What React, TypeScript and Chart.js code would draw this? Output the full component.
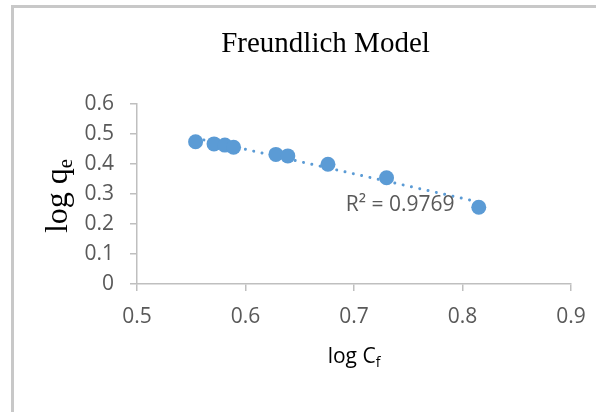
import { useEffect, useRef } from 'react';
import { Chart, registerables } from 'chart.js';

Chart.register(...registerables);

// ---- data ----
const logCf = [0.554, 0.571, 0.581, 0.589, 0.628, 0.639, 0.676, 0.730, 0.815];
const logQe = [0.474, 0.467, 0.463, 0.456, 0.432, 0.427, 0.399, 0.354, 0.256];
const xTickValues = [0.5, 0.6, 0.7, 0.8, 0.9];
const yTickValues = [0, 0.1, 0.2, 0.3, 0.4, 0.5, 0.6];
const chartTitle = 'Freundlich Model';
const rSquaredLabel = 'R² = 0.9769';
const rLabelAnchor = [0.6925, 0.243]; // data coords of the label's left baseline

function linearFit(xs: number[], ys: number[]) {
  const n = xs.length;
  const mx = xs.reduce((a, b) => a + b, 0) / n;
  const my = ys.reduce((a, b) => a + b, 0) / n;
  let sxy = 0;
  let sxx = 0;
  for (let i = 0; i < n; i++) {
    sxy += (xs[i] - mx) * (ys[i] - my);
    sxx += (xs[i] - mx) * (xs[i] - mx);
  }
  const slope = sxy / sxx;
  return { slope, intercept: my - slope * mx };
}

const BLUE = '#5B9BD5';
const AXIS = '#bfbfbf';
const TICK_TEXT = '#595959';

const decor = {
  id: 'decor',
  beforeDraw(chart: any) {
    const ctx = chart.ctx;
    ctx.save();
    ctx.fillStyle = '#ffffff';
    ctx.fillRect(0, 0, chart.width, chart.height);
    ctx.strokeStyle = '#c8c8c8';
    ctx.lineWidth = 3;
    ctx.strokeRect(12.5, 6.5, 800, 800);
    ctx.restore();
  },
  afterDraw(chart: any) {
    const ctx = chart.ctx;
    const area = chart.chartArea;
    const xs = chart.scales.x;
    const ys = chart.scales.y;
    ctx.save();
    // title
    ctx.fillStyle = '#000000';
    ctx.font = '29px "Liberation Serif"';
    ctx.textAlign = 'center';
    ctx.textBaseline = 'alphabetic';
    ctx.fillText(chartTitle, 325.5, 51.5);

    // x axis title: log C_f
    ctx.textAlign = 'left';
    ctx.font = '21px "Open Sans"';
    const main = 'log C';
    const mw = ctx.measureText(main).width;
    ctx.font = '14px "Open Sans"';
    const sw = ctx.measureText('f').width;
    const cx = (area.left + area.right) / 2;
    const startX = cx - (mw + sw) / 2;
    ctx.font = '21px "Open Sans"';
    ctx.fillText(main, startX, 362.5);
    ctx.font = '14px "Open Sans"';
    ctx.fillText('f', startX + mw, 367);

    // y axis title: log q_e (rotated)
    ctx.save();
    ctx.translate(66.5, (area.top + area.bottom) / 2 + 2);
    ctx.rotate(-Math.PI / 2);
    ctx.font = '32px "Liberation Serif"';
    const ym = 'log q';
    const ymw = ctx.measureText(ym).width;
    ctx.font = '21px "Liberation Serif"';
    const ysw = ctx.measureText('e').width;
    const sx = -(ymw + ysw) / 2;
    ctx.font = '32px "Liberation Serif"';
    ctx.fillText(ym, sx, 0);
    ctx.font = '21px "Liberation Serif"';
    ctx.fillText('e', sx + ymw, 5);
    ctx.restore();

    // R² label
    ctx.fillStyle = TICK_TEXT;
    ctx.font = '21px "Open Sans"';
    ctx.textAlign = 'left';
    ctx.fillText(rSquaredLabel, xs.getPixelForValue(rLabelAnchor[0]), ys.getPixelForValue(rLabelAnchor[1]));
    ctx.restore();
  },
};

export default function App() {
  const ref = useRef<HTMLCanvasElement | null>(null);

  useEffect(() => {
    if (!ref.current) return;
    const fit = linearFit(logCf, logQe);
    const xMin = Math.min(...logCf);
    const xMax = Math.max(...logCf);
    const points = logCf.map((x, i) => ({ x, y: logQe[i] }));
    const trend = [
      { x: xMin, y: fit.intercept + fit.slope * xMin },
      { x: xMax, y: fit.intercept + fit.slope * xMax },
    ];
    const fmt = (v: any) => String(Math.round(Number(v) * 10) / 10);
    const tickFont = { family: '"Open Sans"', size: 21 };

    const chart = new Chart(ref.current, {
      type: 'scatter',
      data: {
        datasets: [
          {
            label: 'data',
            data: points,
            backgroundColor: BLUE,
            borderColor: BLUE,
            borderWidth: 0,
            pointRadius: 7.5,
            pointHoverRadius: 7.5,
          },
          {
            label: 'trend',
            data: trend,
            showLine: true,
            borderColor: BLUE,
            borderWidth: 3,
            borderDash: [0.01, 8.5],
            borderCapStyle: 'round',
            pointRadius: 0,
            fill: false,
          } as any,
        ],
      },
      options: {
        animation: false,
        responsive: false,
        devicePixelRatio: 1,
        layout: { padding: { left: 0, right: 25, top: 104, bottom: 88 } },
        plugins: {
          legend: { display: false },
          tooltip: { enabled: false },
          title: { display: false },
        },
        scales: {
          x: {
            type: 'linear',
            min: xTickValues[0],
            max: xTickValues[xTickValues.length - 1],
            afterBuildTicks: (s: any) => {
              s.ticks = xTickValues.map((v) => ({ value: v }));
            },
            ticks: {
              font: tickFont,
              color: TICK_TEXT,
              padding: 13,
              maxRotation: 0,
              autoSkip: false,
              callback: fmt,
            },
            grid: {
              drawOnChartArea: false,
              drawTicks: true,
              tickLength: 7,
              color: AXIS,
              lineWidth: 1.5,
            },
            border: { display: true, color: AXIS, width: 1.5 },
            afterFit: (s: any) => {
              s.height = 40;
              s.paddingLeft = 0;
              s.paddingRight = 0;
            },
          },
          y: {
            type: 'linear',
            min: yTickValues[0],
            max: yTickValues[yTickValues.length - 1],
            afterBuildTicks: (s: any) => {
              s.ticks = yTickValues.map((v) => ({ value: v }));
            },
            ticks: {
              font: tickFont,
              color: TICK_TEXT,
              padding: 16,
              autoSkip: false,
              callback: fmt,
            },
            grid: {
              drawOnChartArea: false,
              drawTicks: true,
              tickLength: 7,
              color: AXIS,
              lineWidth: 1.5,
            },
            border: { display: true, color: AXIS, width: 1.5 },
            afterFit: (s: any) => {
              s.width = 137;
              s.paddingTop = 0;
              s.paddingBottom = 0;
            },
          },
        },
      },
      plugins: [decor],
    } as any);

    return () => chart.destroy();
  }, []);

  return (
    <div style={{ position: 'fixed', left: 0, top: 0, width: 596, height: 412, background: '#fff' }}>
      <canvas ref={ref} width={596} height={412} style={{ display: 'block', width: 596, height: 412 }} />
    </div>
  );
}
